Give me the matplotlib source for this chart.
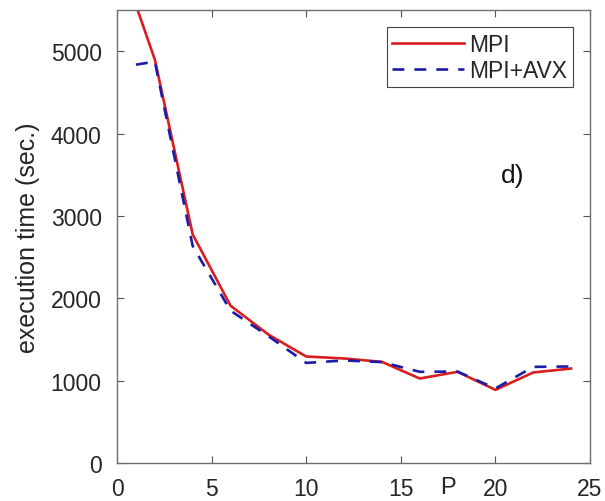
import matplotlib
matplotlib.use("Agg")
import matplotlib.pyplot as plt

P = [1, 2, 4, 6, 8, 10, 12, 14, 16, 18, 20, 22, 24]
mpi = [5560, 4897, 2776, 1910, 1560, 1293, 1269, 1228, 1026, 1107, 888, 1099, 1147]
mpi_avx = [4836, 4873, 2634, 1850, 1540, 1215, 1245, 1225, 1107, 1110, 905, 1167, 1172]

xticks = [0, 5, 10, 15, 20, 25]
yticks = [0, 1000, 2000, 3000, 4000, 5000]

plt.rcParams['font.family'] = ['Liberation Sans', 'DejaVu Sans']

fig = plt.figure(figsize=(6.05, 5.02), dpi=100)
ax = fig.add_axes([0.1934, 0.0757, 0.7818, 0.9024])

ax.plot(P, mpi, color='#d81e1e', lw=1.9, label='MPI')
ax.plot(P, mpi_avx, color='#1c1ca6', lw=1.9, ls=(0, (4.5, 3.8)), label='MPI+AVX')

ax.set_xlim(0, 25)
ax.set_ylim(0, 5500)
ax.set_xticks(xticks)
ax.set_yticks(yticks)
ax.tick_params(direction='in', top=True, right=True, length=5, width=0.8,
               color='#555555', labelsize=16.5, labelcolor='#262626')
ax.tick_params(axis='x', pad=10)
ax.tick_params(axis='y', pad=11)
for s in ax.spines.values():
    s.set_color('#707070')
    s.set_linewidth(1.0)

ax.set_ylabel('execution time (sec.)', fontsize=18, color='#262626', labelpad=8)
ax.text(0.70, -0.052, 'P', transform=ax.transAxes, ha='center', va='center',
        fontsize=17, color='#262626')
ax.text(20.9, 3500, 'd)', ha='center', va='center', fontsize=19, color='#111111')

leg = ax.legend(loc='upper right', bbox_to_anchor=(0.964, 0.962), borderaxespad=0,
                fontsize=16.5, handlelength=3.1, handletextpad=0.25, labelspacing=0.12,
                borderpad=0.25, fancybox=False, framealpha=1, edgecolor='#444444')
leg.get_frame().set_linewidth(0.8)
for t in leg.get_texts():
    t.set_color('#262626')

fig.savefig('out.png', dpi=100)
